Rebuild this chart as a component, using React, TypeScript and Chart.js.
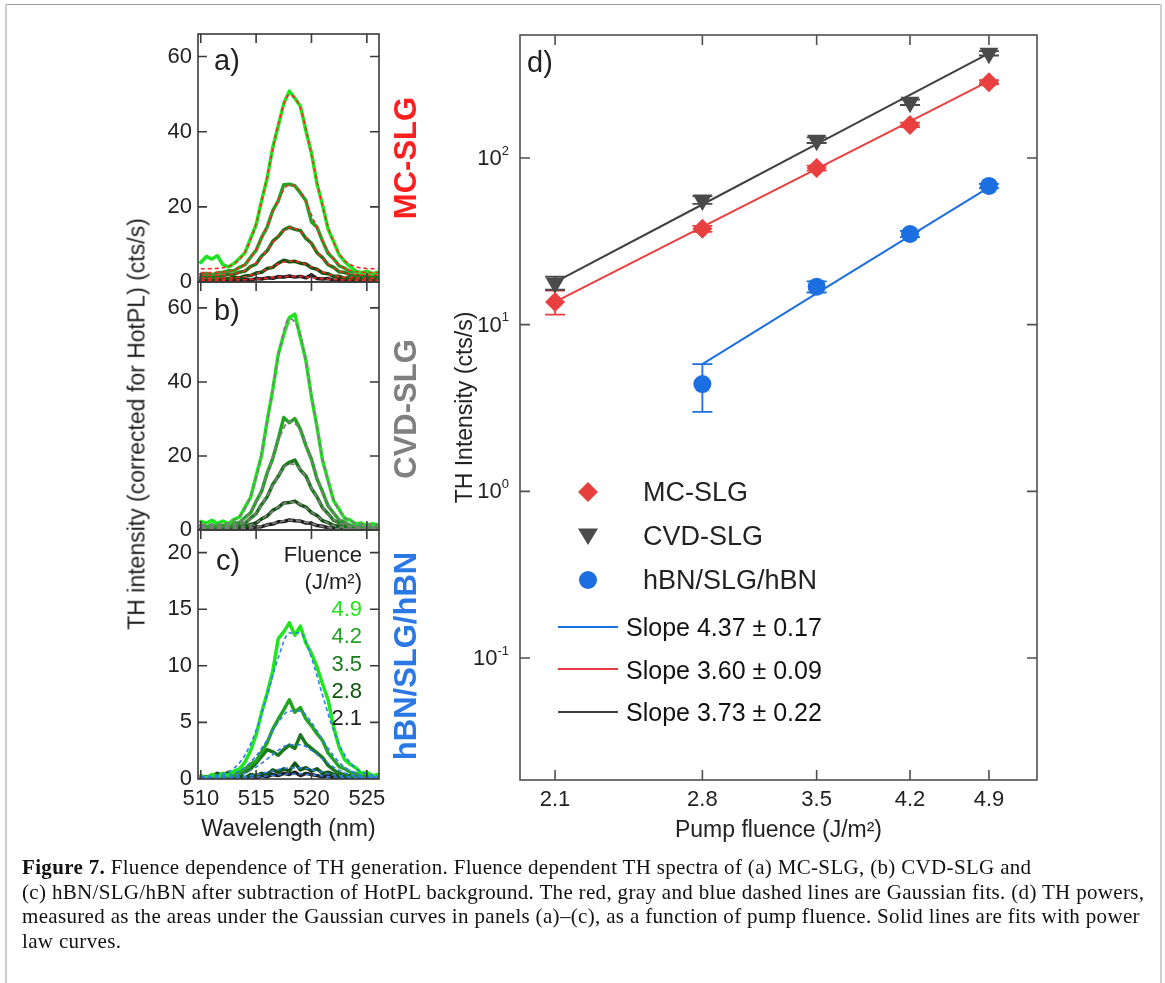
import React, { useEffect, useRef } from "react";
import { Chart, registerables } from "chart.js";

Chart.register(...registerables);

const SANS = '"Liberation Sans", Arial, Helvetica, sans-serif';
const SERIF = '"Liberation Serif", "Times New Roman", serif';
Chart.defaults.font.family = SANS;
Chart.defaults.color = "#222";

// ---------------- data: spectra (panels a-c) ----------------
const wavelengths = [510, 510.5, 511, 511.5, 512, 512.5, 513, 513.5, 514, 514.5, 515, 515.5, 516, 516.5, 517, 517.5, 518, 518.5, 519, 519.5, 520, 520.5, 521, 521.5, 522, 522.5, 523, 523.5, 524, 524.5, 525, 525.5, 526];
const fitWavelengths = [510, 511, 512, 513, 514, 515, 516, 517, 518, 519, 520, 521, 522, 523, 524, 525, 526];
const wavelengthTicks = [510, 515, 520, 525];
const fluenceLabels = ["4.9", "4.2", "3.5", "2.8", "2.1"];

// (a) MC-SLG measured spectra
const mcSpec49 = [5.2, 6.8, 6.1, 7.0, 4.6, 4.0, 4.9, 6.3, 7.8, 11.6, 15.2, 21.8, 27.6, 35.8, 41.5, 47.6, 50.8, 48.9, 46.8, 40.2, 34.3, 26.1, 20.5, 14.1, 10.8, 7.2, 5.4, 4.1, 2.9, 2.4, 2.9, 2.1, 2.6];
const mcSpec42 = [2.0, 2.3, 1.9, 2.4, 2.6, 3.0, 3.0, 3.9, 4.6, 6.6, 8.4, 11.9, 14.6, 19.0, 21.6, 25.9, 26.0, 25.6, 23.7, 21.6, 16.0, 14.6, 10.9, 7.6, 6.2, 4.3, 3.7, 2.7, 2.8, 2.3, 2.6, 2.2, 2.4];
const mcSpec35 = [1.2, 1.4, 1.1, 1.5, 1.7, 2.1, 2.0, 2.6, 2.9, 4.1, 4.8, 6.9, 8.3, 10.8, 12.1, 13.9, 14.6, 14.0, 13.7, 11.6, 10.3, 7.8, 6.5, 4.6, 3.9, 2.7, 2.5, 1.9, 1.7, 1.7, 1.4, 1.6, 1.3];
const mcSpec28 = [0.6, 0.5, 0.8, 0.6, 0.9, 1.0, 1.2, 1.1, 1.6, 1.7, 2.4, 2.6, 3.6, 3.9, 5.0, 5.8, 5.4, 5.5, 5.0, 4.8, 3.8, 3.4, 2.4, 2.2, 1.5, 1.5, 1.0, 1.1, 0.8, 0.9, 0.6, 0.8, 0.7];
const mcSpec21 = [0.2, 0.4, 0.1, 0.3, 0.5, 0.2, 0.6, 0.4, 0.7, 0.5, 0.9, 0.8, 1.1, 1.0, 1.4, 1.3, 1.6, 1.3, 1.5, 1.1, 1.9, 0.9, 0.8, 0.9, 0.5, 0.6, 0.3, 0.5, 0.4, 0.2, 0.5, 0.3, 0.4];
// (a) Gaussian fits
const mcFit49 = [3.51, 3.55, 3.8, 4.83, 8.07, 15.59, 28.1, 41.96, 49.77, 46.23, 33.86, 20.05, 10.48, 5.75, 4.06, 3.61, 3.51];
const mcFit42 = [2.5, 2.53, 2.65, 3.17, 4.81, 8.61, 14.93, 21.93, 25.88, 24.1, 17.85, 10.87, 6.03, 3.64, 2.78, 2.55, 2.51];
const mcFit35 = [1.8, 1.81, 1.88, 2.16, 3.05, 5.1, 8.52, 12.3, 14.44, 13.47, 10.09, 6.32, 3.71, 2.41, 1.95, 1.83, 1.8];
const mcFit28 = [1.0, 1.01, 1.03, 1.13, 1.45, 2.2, 3.43, 4.8, 5.58, 5.23, 4.0, 2.64, 1.69, 1.22, 1.06, 1.01, 1.0];
const mcFit21 = [0.5, 0.5, 0.51, 0.53, 0.6, 0.76, 1.03, 1.33, 1.5, 1.42, 1.15, 0.86, 0.65, 0.55, 0.51, 0.5, 0.5];

// (b) CVD-SLG measured spectra
const cvdSpec49 = [2.3, 1.9, 2.6, 1.8, 2.4, 1.7, 2.9, 3.5, 6.2, 8.8, 14.6, 20.3, 29.6, 37.8, 47.5, 52.9, 57.4, 58.3, 52.0, 45.8, 35.9, 27.9, 18.8, 13.4, 7.9, 5.6, 3.1, 2.7, 1.6, 1.9, 1.2, 1.7, 1.4];
const cvdSpec42 = [1.3, 0.8, 1.4, 0.9, 1.2, 1.0, 1.8, 2.0, 3.4, 4.6, 7.7, 10.5, 15.4, 19.3, 24.6, 30.4, 29.0, 30.1, 27.2, 22.8, 19.1, 13.8, 10.3, 6.5, 4.6, 2.7, 2.1, 1.2, 1.3, 0.8, 1.1, 0.7, 0.9];
const cvdSpec35 = [0.4, 0.7, 0.3, 0.6, 0.5, 0.9, 0.8, 1.5, 1.8, 3.2, 4.4, 6.9, 9.0, 12.3, 14.5, 17.2, 18.3, 18.9, 16.2, 14.6, 11.2, 8.9, 6.0, 4.4, 2.6, 2.0, 1.1, 1.1, 0.6, 0.8, 0.5, 0.7, 0.6];
const cvdSpec28 = [0.2, 0.3, 0.1, 0.4, 0.3, 0.5, 0.4, 0.8, 0.9, 1.5, 1.9, 3.0, 3.8, 5.3, 6.1, 7.3, 7.4, 7.8, 6.8, 6.2, 4.7, 3.9, 2.5, 2.0, 1.2, 1.0, 0.5, 0.6, 0.3, 0.4, 0.2, 0.4, 0.3];
const cvdSpec21 = [0.1, 0.2, 0.0, 0.3, 0.1, 0.2, 0.3, 0.2, 0.5, 0.4, 0.8, 0.9, 1.4, 1.6, 2.2, 2.3, 2.7, 2.5, 2.4, 1.9, 1.8, 1.2, 1.0, 0.6, 0.5, 0.3, 0.3, 0.2, 0.2, 0.1, 0.3, 0.1, 0.2];
// (b) Gaussian fits
const cvdFit49 = [1.5, 1.53, 1.71, 2.58, 5.77, 14.04, 29.11, 46.86, 57.16, 52.52, 36.39, 19.31, 8.28, 3.44, 1.91, 1.57, 1.5];
const cvdFit42 = [1.0, 1.01, 1.11, 1.55, 3.17, 7.38, 15.05, 24.09, 29.33, 26.96, 18.76, 10.06, 4.45, 1.99, 1.21, 1.03, 1.0];
const cvdFit35 = [0.7, 0.71, 0.76, 1.03, 2.02, 4.58, 9.23, 14.71, 17.9, 16.46, 11.48, 6.2, 2.79, 1.3, 0.83, 0.72, 0.7];
const cvdFit28 = [0.4, 0.4, 0.43, 0.54, 0.95, 2.01, 3.95, 6.23, 7.56, 6.96, 4.89, 2.69, 1.27, 0.65, 0.45, 0.41, 0.4];
const cvdFit21 = [0.2, 0.2, 0.21, 0.25, 0.38, 0.74, 1.38, 2.14, 2.59, 2.39, 1.7, 0.96, 0.49, 0.28, 0.22, 0.2, 0.2];

// (c) hBN/SLG/hBN measured spectra
const hbnSpec49 = [0.3, 0.1, 0.4, 0.2, 0.5, 0.3, 0.7, 0.9, 1.5, 2.5, 3.9, 5.9, 7.6, 9.5, 12.4, 13.0, 13.8, 12.7, 13.5, 12.0, 11.1, 9.9, 8.4, 7.0, 4.6, 2.8, 1.7, 1.3, 1.0, 0.5, 0.6, 0.3, 0.4];
const hbnSpec42 = [0.2, 0.0, 0.3, 0.1, 0.2, 0.4, 0.3, 0.6, 0.9, 1.3, 1.6, 2.4, 3.2, 4.4, 5.3, 6.1, 7.0, 5.9, 6.3, 5.3, 4.7, 4.0, 3.4, 2.3, 1.7, 1.1, 0.9, 0.6, 0.5, 0.3, 0.4, 0.1, 0.2];
const hbnSpec35 = [0.0, 0.2, 0.1, 0.0, 0.2, 0.1, 0.3, 0.4, 0.6, 0.9, 1.4, 2.0, 2.6, 2.4, 2.1, 2.6, 3.0, 2.7, 3.9, 3.1, 2.7, 2.3, 1.9, 1.2, 0.8, 0.5, 0.4, 0.2, 0.3, 0.1, 0.2, 0.0, 0.1];
const hbnSpec28 = [0.1, 0.0, 0.2, 0.5, 0.3, 0.6, 0.2, 0.3, 0.1, 0.4, 0.3, 0.5, 0.4, 0.8, 0.6, 0.9, 0.7, 1.4, 0.8, 1.0, 0.7, 0.9, 0.5, 0.6, 0.4, 0.3, 0.2, 0.3, 0.1, 0.2, 0.0, 0.1, 0.1];
const hbnSpec21 = [0.0, 0.1, 0.0, 0.1, 0.2, 0.0, 0.1, 0.2, 0.1, 0.2, 0.1, 0.3, 0.2, 0.4, 0.3, 0.5, 0.4, 0.6, 0.3, 0.5, 0.4, 0.3, 0.2, 0.3, 0.1, 0.2, 0.1, 0.0, 0.1, 0.1, 0.0, 0.1, 0.0];
// (c) Gaussian fits
const hbnFit49 = [0.21, 0.26, 0.44, 0.95, 2.12, 4.3, 7.4, 10.72, 12.9, 12.9, 10.72, 7.4, 4.3, 2.12, 0.95, 0.44, 0.26];
const hbnFit42 = [0.16, 0.18, 0.26, 0.5, 1.04, 2.04, 3.47, 5.0, 6.01, 6.01, 5.0, 3.47, 2.04, 1.04, 0.5, 0.26, 0.18];
const hbnFit35 = [0.1, 0.11, 0.16, 0.27, 0.54, 1.05, 1.76, 2.53, 3.03, 3.03, 2.53, 1.76, 1.05, 0.54, 0.27, 0.16, 0.11];
const hbnFit28 = [0.1, 0.1, 0.12, 0.15, 0.23, 0.38, 0.6, 0.83, 0.98, 0.98, 0.83, 0.6, 0.38, 0.23, 0.15, 0.12, 0.1];
const hbnFit21 = [0.05, 0.05, 0.06, 0.07, 0.11, 0.18, 0.27, 0.37, 0.44, 0.44, 0.37, 0.27, 0.18, 0.11, 0.07, 0.06, 0.05];

// ---------------- data: panel d ----------------
const pumpFluence = [2.1, 2.8, 3.5, 4.2, 4.9];
const decadeTicks = [0.1, 1, 10, 100];
const mcPower = [13.7, 37.6, 87, 158, 285];
const mcLow = [11.5, 36, 84, 153, 277];
const mcHigh = [16, 39.2, 90, 163, 293];
const cvdPower = [17.8, 56, 128, 216, 425];
const cvdLow = [16.2, 53, 123, 208, 412];
const cvdHigh = [19.4, 59, 133, 224, 438];
const hbnPower = [null, 4.4, 16.9, 35, 68];
const hbnLow = [null, 3.0, 15.6, 33.5, 66];
const hbnHigh = [null, 5.8, 18.2, 36.5, 70];
const mcFitLine = [13.7, 38.6, 86, 166, 289];
const cvdFitLine = [18, 52.6, 121, 239, 425];
const hbnFitLine = [null, 5.8, 15.4, 34.1, 66.7];
const slopeLabels = ["Slope 4.37 \u00b1 0.17", "Slope 3.60 \u00b1 0.09", "Slope 3.73 \u00b1 0.22"];
const sampleNames = ["MC-SLG", "CVD-SLG", "hBN/SLG/hBN"];

const captionLines = [
  "Fluence dependence of TH generation. Fluence dependent TH spectra of (a) MC-SLG, (b) CVD-SLG and",
  "(c) hBN/SLG/hBN after subtraction of HotPL background. The red, gray and blue dashed lines are Gaussian fits. (d) TH powers,",
  "measured as the areas under the Gaussian curves in panels (a)\u2013(c), as a function of pump fluence. Solid lines are fits with power",
  "law curves.",
];

// ---------------- styles ----------------
const spectraColors = ["#1ee61e", "#24a324", "#1b7a1b", "#0f540f", "#1e1e1e"];
const RED = "#e8403f";
const GRAY = "#4a4a4a";
const BLUE = "#1b6fe0";

function makeFramePlugin(color: string, width: number, len: number) {
  return {
    id: "frame",
    afterDraw(chart: any) {
      const { ctx, chartArea } = chart;
      const { left, right, top, bottom } = chartArea;
      const xs = chart.scales.x;
      const ys = chart.scales.y;
      ctx.save();
      ctx.strokeStyle = color;
      ctx.lineWidth = width;
      ctx.beginPath();
      xs.ticks.forEach((t: any) => {
        const px = xs.getPixelForValue(t.value);
        if (px <= left + 2 || px >= right - 2) return;
        ctx.moveTo(px, top);
        ctx.lineTo(px, top + len);
        ctx.moveTo(px, bottom);
        ctx.lineTo(px, bottom - len);
      });
      ys.ticks.forEach((t: any) => {
        const py = ys.getPixelForValue(t.value);
        if (py <= top + 2 || py >= bottom - 2) return;
        ctx.moveTo(left, py);
        ctx.lineTo(left + len, py);
        ctx.moveTo(right, py);
        ctx.lineTo(right - len, py);
      });
      ctx.stroke();
      ctx.strokeRect(left, top, right - left, bottom - top);
      ctx.restore();
    },
  };
}

type Area = { l: number; t: number; r: number; b: number };

function SpectrumPanel(props: {
  spectra: number[][];
  fits: number[][];
  fitColor: string;
  fitDash: number[];
  fitWidth: number;
  yMax: number;
  yTicks: number[];
  area: Area;
  showX: boolean;
}) {
  const ref = useRef<HTMLCanvasElement>(null);
  const { area, showX } = props;
  const padL = 60, padT = 16, padR = 14, padB = showX ? 66 : 16;
  const W = area.r - area.l + padL + padR;
  const H = area.b - area.t + padT + padB;

  useEffect(() => {
    if (!ref.current) return;
    const datasets: any[] = [];
    props.fits.forEach((f) => {
      datasets.push({
        data: fitWavelengths.map((x, j) => ({ x, y: f[j] })),
        borderColor: props.fitColor,
        borderWidth: props.fitWidth,
        borderDash: props.fitDash,
        pointRadius: 0,
        cubicInterpolationMode: "monotone",
        order: 0,
        clip: 0,
      });
    });
    props.spectra.forEach((s, i) => {
      datasets.push({
        data: wavelengths.map((x, j) => ({ x, y: s[j] })),
        borderColor: spectraColors[i],
        borderWidth: 3.5,
        borderJoinStyle: "round",
        borderCapStyle: "round",
        pointRadius: 0,
        tension: 0,
        order: 1,
        clip: 0,
      });
    });
    const chart = new Chart(ref.current, {
      type: "line",
      data: { datasets },
      plugins: [makeFramePlugin("#3a3a3a", 1.6, 9)],
      options: {
        responsive: false,
        animation: false,
        devicePixelRatio: 1,
        events: [],
        layout: { padding: { left: 0, top: padT, right: padR, bottom: 0 } },
        plugins: { legend: { display: false }, tooltip: { enabled: false } },
        scales: {
          x: {
            type: "linear",
            min: 509.75,
            max: 526.1,
            afterBuildTicks: (s: any) => {
              s.ticks = wavelengthTicks.map((v) => ({ value: v }));
            },
            grid: { display: false, drawTicks: false },
            border: { display: false },
            ticks: { display: showX, font: { size: 22 }, color: "#222", padding: 7, autoSkip: false, maxRotation: 0 },
            title: { display: showX, text: "Wavelength (nm)", font: { size: 23 }, color: "#222", padding: { top: 0, bottom: 2 } },
            afterFit: (s: any) => {
              s.height = padB;
              s.paddingLeft = 0;
              s.paddingRight = 0;
            },
          },
          y: {
            type: "linear",
            min: 0,
            max: props.yMax,
            afterBuildTicks: (s: any) => {
              s.ticks = props.yTicks.map((v) => ({ value: v }));
            },
            grid: { display: false, drawTicks: false },
            border: { display: false },
            ticks: { font: { size: 22 }, color: "#222", padding: 6 },
            afterFit: (s: any) => {
              s.width = padL;
              s.paddingTop = 0;
              s.paddingBottom = 0;
            },
          },
        },
      } as any,
    });
    return () => chart.destroy();
  }, []);

  return (
    <canvas
      ref={ref}
      width={W}
      height={H}
      style={{ position: "absolute", left: area.l - padL, top: area.t - padT, width: W, height: H }}
    />
  );
}

function PowerPanel() {
  const ref = useRef<HTMLCanvasElement>(null);
  const area = { l: 520, t: 35, r: 1037, b: 780 };
  const padL = 100, padT = 15, padR = 15, padB = 70;
  const W = area.r - area.l + padL + padR;
  const H = area.b - area.t + padT + padB;

  useEffect(() => {
    if (!ref.current) return;
    const pts = (ys: (number | null)[]) =>
      pumpFluence.map((x, i) => ({ x, y: ys[i] })).filter((p) => p.y !== null);
    const errorSets = [
      { low: mcLow, high: mcHigh, color: RED },
      { low: cvdLow, high: cvdHigh, color: GRAY },
      { low: hbnLow, high: hbnHigh, color: BLUE },
    ];
    const errorBarPlugin = {
      id: "errorBars",
      beforeDatasetsDraw(chart: any) {
        const xs = chart.scales.x, ys = chart.scales.y, ctx = chart.ctx;
        ctx.save();
        ctx.lineWidth = 1.8;
        errorSets.forEach((set) => {
          ctx.strokeStyle = set.color;
          pumpFluence.forEach((xv, i) => {
            const lo = set.low[i], hi = set.high[i];
            if (lo == null || hi == null) return;
            const px = xs.getPixelForValue(xv);
            const p1 = ys.getPixelForValue(lo);
            const p2 = ys.getPixelForValue(hi);
            ctx.beginPath();
            ctx.moveTo(px, p1);
            ctx.lineTo(px, p2);
            ctx.moveTo(px - 10, p1);
            ctx.lineTo(px + 10, p1);
            ctx.moveTo(px - 10, p2);
            ctx.lineTo(px + 10, p2);
            ctx.stroke();
          });
        });
        ctx.restore();
      },
    };
    const logLabelPlugin = {
      id: "logLabels",
      afterDraw(chart: any) {
        const ys = chart.scales.y, ctx = chart.ctx;
        const xRight = chart.chartArea.left - 11;
        ctx.save();
        ctx.fillStyle = "#222";
        ctx.textBaseline = "middle";
        ctx.textAlign = "right";
        ys.ticks.forEach((t: any) => {
          const py = ys.getPixelForValue(t.value);
          const e = Math.round(Math.log10(t.value));
          const es = String(e);
          ctx.font = `13px ${SANS}`;
          const ew = ctx.measureText(es).width;
          ctx.fillText(es, xRight, py - 7);
          ctx.font = `22px ${SANS}`;
          ctx.fillText("10", xRight - ew, py + 1);
        });
        ctx.restore();
      },
    };
    const chart = new Chart(ref.current, {
      type: "scatter",
      data: {
        datasets: [
          { data: pts(mcPower), pointStyle: "rectRot", pointRadius: 10, backgroundColor: RED, borderWidth: 0, showLine: false, order: 0 },
          { data: pts(cvdPower), pointStyle: "triangle", rotation: 180, pointRadius: 11, backgroundColor: GRAY, borderWidth: 0, showLine: false, order: 0 },
          { data: pts(hbnPower), pointStyle: "circle", pointRadius: 9, backgroundColor: BLUE, borderWidth: 0, showLine: false, order: 0 },
          { data: pts(hbnFitLine), showLine: true, borderColor: BLUE, borderWidth: 2, pointRadius: 0, order: 1 },
          { data: pts(mcFitLine), showLine: true, borderColor: RED, borderWidth: 2, pointRadius: 0, order: 1 },
          { data: pts(cvdFitLine), showLine: true, borderColor: "#404040", borderWidth: 2, pointRadius: 0, order: 1 },
        ],
      },
      plugins: [errorBarPlugin, logLabelPlugin, makeFramePlugin("#505050", 1.6, 10)],
      options: {
        responsive: false,
        animation: false,
        devicePixelRatio: 1,
        events: [],
        layout: { padding: { left: 0, top: padT, right: padR, bottom: 0 } },
        plugins: { legend: { display: false }, tooltip: { enabled: false } },
        scales: {
          x: {
            type: "logarithmic",
            min: 1.961,
            max: 5.382,
            afterBuildTicks: (s: any) => {
              s.ticks = pumpFluence.map((v) => ({ value: v }));
            },
            grid: { display: false, drawTicks: false },
            border: { display: false },
            ticks: {
              font: { size: 22 },
              color: "#222",
              padding: 7,
              autoSkip: false,
              maxRotation: 0,
              callback: (v: any) => Number(v).toFixed(1),
            },
            title: { display: true, text: "Pump fluence (J/m\u00b2)", font: { size: 23 }, color: "#222", padding: { top: 0, bottom: 6 } },
            afterFit: (s: any) => {
              s.height = padB;
              s.paddingLeft = 0;
              s.paddingRight = 0;
            },
          },
          y: {
            type: "logarithmic",
            min: 0.01854,
            max: 547,
            afterBuildTicks: (s: any) => {
              s.ticks = decadeTicks.map((v) => ({ value: v }));
            },
            grid: { display: false, drawTicks: false },
            border: { display: false },
            ticks: { display: false },
            title: { display: true, text: "TH Intensity (cts/s)", font: { size: 23 }, color: "#222", padding: { top: 32, bottom: 0 } },
            afterFit: (s: any) => {
              s.width = padL;
              s.paddingTop = 0;
              s.paddingBottom = 0;
            },
          },
        },
      } as any,
    });
    return () => chart.destroy();
  }, []);

  return (
    <canvas
      ref={ref}
      width={W}
      height={H}
      style={{ position: "absolute", left: area.l - padL, top: area.t - padT, width: W, height: H }}
    />
  );
}

function VText(p: { x: number; y: number; text: string; size: number; color: string; weight?: number }) {
  return (
    <div
      style={{
        position: "absolute",
        left: p.x,
        top: p.y,
        transform: "translate(-50%, -50%) rotate(-90deg)",
        whiteSpace: "nowrap",
        fontSize: p.size,
        color: p.color,
        fontWeight: p.weight ?? 400,
        lineHeight: 1,
        fontFamily: SANS,
      }}
    >
      {p.text}
    </div>
  );
}

function HText(p: { x: number; y: number; text: string; size: number; color: string; align: "left" | "right" | "center" }) {
  const tx = p.align === "left" ? "0" : p.align === "right" ? "-100%" : "-50%";
  return (
    <div
      style={{
        position: "absolute",
        left: p.x,
        top: p.y,
        transform: `translate(${tx}, -50%)`,
        whiteSpace: "nowrap",
        fontSize: p.size,
        color: p.color,
        lineHeight: 1,
        fontFamily: SANS,
      }}
    >
      {p.text}
    </div>
  );
}

export default function App() {
  const fluenceColors = spectraColors;
  return (
    <div
      style={{
        position: "absolute",
        left: 0,
        top: 0,
        width: 1165,
        height: 983,
        background: "#fff",
        overflow: "hidden",
        fontFamily: SANS,
      }}
    >
      {/* page frame */}
      <div style={{ position: "absolute", left: 5, top: 4, width: 1157, height: 1, background: "#9a9a9a" }} />
      <div style={{ position: "absolute", left: 5, top: 4, width: 2, height: 979, background: "#cfcfcf" }} />
      <div style={{ position: "absolute", left: 1160, top: 4, width: 2, height: 979, background: "#cfcfcf" }} />

      <SpectrumPanel
        spectra={[mcSpec49, mcSpec42, mcSpec35, mcSpec28, mcSpec21]}
        fits={[mcFit49, mcFit42, mcFit35, mcFit28, mcFit21]}
        fitColor="#ff2424"
        fitDash={[4, 3]}
        fitWidth={1.6}
        yMax={66}
        yTicks={[0, 20, 40, 60]}
        area={{ l: 198, t: 34, r: 379, b: 282 }}
        showX={false}
      />
      <SpectrumPanel
        spectra={[cvdSpec49, cvdSpec42, cvdSpec35, cvdSpec28, cvdSpec21]}
        fits={[cvdFit49, cvdFit42, cvdFit35, cvdFit28, cvdFit21]}
        fitColor="#7d7d7d"
        fitDash={[5, 3]}
        fitWidth={1.8}
        yMax={67}
        yTicks={[0, 20, 40, 60]}
        area={{ l: 198, t: 282, r: 379, b: 530 }}
        showX={false}
      />
      <SpectrumPanel
        spectra={[hbnSpec49, hbnSpec42, hbnSpec35, hbnSpec28, hbnSpec21]}
        fits={[hbnFit49, hbnFit42, hbnFit35, hbnFit28, hbnFit21]}
        fitColor="#2f7de8"
        fitDash={[4, 3]}
        fitWidth={1.6}
        yMax={22}
        yTicks={[0, 5, 10, 15, 20]}
        area={{ l: 198, t: 530, r: 379, b: 779 }}
        showX={true}
      />
      <PowerPanel />

      {/* left panels labels */}
      <VText x={137} y={424} text="TH intensity (corrected for HotPL) (cts/s)" size={23} color="#222" />
      <VText x={405} y={158} text="MC-SLG" size={31} color="#ff1f1f" weight={700} />
      <VText x={405} y={409} text="CVD-SLG" size={31} color="#808080" weight={700} />
      <VText x={405} y={656} text="hBN/SLG/hBN" size={31} color="#2a78e6" weight={700} />
      <HText x={214} y={60} text="a)" size={29} color="#222" align="left" />
      <HText x={214} y={310} text="b)" size={29} color="#222" align="left" />
      <HText x={216} y={560} text="c)" size={29} color="#222" align="left" />
      <HText x={527} y={62} text="d)" size={29} color="#222" align="left" />

      {/* fluence legend (panel c) */}
      <HText x={362} y={555} text="Fluence" size={22} color="#222" align="right" />
      <HText x={362} y={582} text={"(J/m\u00b2)"} size={22} color="#222" align="right" />
      {fluenceLabels.map((f, i) => (
        <HText key={f} x={362} y={609 + i * 27.3} text={f} size={22} color={fluenceColors[i]} align="right" />
      ))}

      {/* panel d legend */}
      <svg width={1165} height={983} style={{ position: "absolute", left: 0, top: 0, pointerEvents: "none" }}>
        <polygon points="588,482 598,492 588,502 578,492" fill={RED} />
        <polygon points="578,528.5 598,528.5 588,545" fill={GRAY} />
        <circle cx={588} cy={580} r={9} fill={BLUE} />
        <line x1={558} y1={627} x2={618} y2={627} stroke={BLUE} strokeWidth={2} />
        <line x1={558} y1={669} x2={618} y2={669} stroke={RED} strokeWidth={2} />
        <line x1={558} y1={712} x2={618} y2={712} stroke="#404040" strokeWidth={2} />
      </svg>
      {sampleNames.map((n, i) => (
        <HText key={n} x={643} y={492 + i * 44} text={n} size={27} color="#222" align="left" />
      ))}
      {slopeLabels.map((s, i) => (
        <HText key={s} x={626} y={627 + i * 42.5} text={s} size={25} color="#111" align="left" />
      ))}

      {/* caption */}
      <div
        style={{
          position: "absolute",
          left: 22,
          top: 855,
          fontFamily: SERIF,
          fontSize: 21,
          letterSpacing: "0.33px",
          lineHeight: "24.6px",
          color: "#111",
          whiteSpace: "nowrap",
        }}
      >
        {captionLines.map((line, i) => (
          <div key={i}>
            {i === 0 ? <b>Figure 7. </b> : null}
            {line}
          </div>
        ))}
      </div>
    </div>
  );
}
